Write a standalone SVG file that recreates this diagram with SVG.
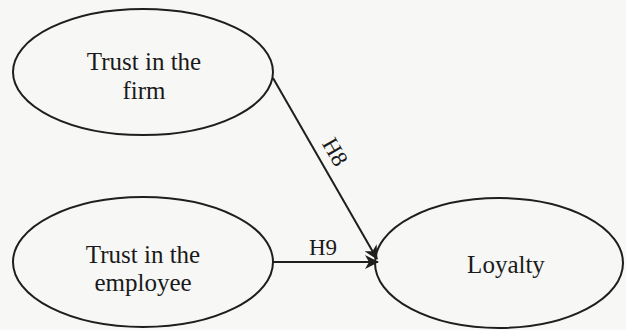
<svg xmlns="http://www.w3.org/2000/svg" width="626" height="330" viewBox="0 0 626 330">
  <style>
    .node { fill: none; stroke: #1e1e1e; stroke-width: 2; }
    .label { font-family: "Liberation Serif", "Times New Roman", serif; font-size: 25px; fill: #1a1a1a; text-anchor: middle; }
    .edge { fill: none; stroke: #1e1e1e; stroke-width: 2; }
    .hyp { font-family: "Liberation Serif", "Times New Roman", serif; font-size: 23px; fill: #1a1a1a; text-anchor: middle; }
  </style>
  <defs>
    <marker id="arrow" viewBox="0 0 14 14" refX="13" refY="7" markerWidth="14" markerHeight="14" markerUnits="userSpaceOnUse" orient="auto">
      <path d="M0,0 L14,7 L0,14 L4,7 Z" fill="#1e1e1e"/>
    </marker>
  </defs>
  <rect width="626" height="330" fill="#f7f7f5"/>

  <g id="trust-firm">
    <ellipse class="node" cx="143" cy="72" rx="130" ry="63"/>
    <text class="label" x="144" y="70">Trust in the</text>
    <text class="label" x="144" y="99">firm</text>
  </g>

  <g id="trust-employee">
    <ellipse class="node" cx="143" cy="262" rx="130" ry="65"/>
    <text class="label" x="143" y="263">Trust in the</text>
    <text class="label" x="143" y="291">employee</text>
  </g>

  <g id="loyalty">
    <ellipse class="node" cx="499" cy="263" rx="124" ry="65"/>
    <text class="label" x="506" y="273">Loyalty</text>
  </g>

  <g id="connectors">
    <line class="edge" x1="273" y1="78" x2="377" y2="259" marker-end="url(#arrow)"/>
    <text class="hyp" transform="translate(335,152) rotate(60)" dominant-baseline="central">H8</text>
    <line class="edge" x1="273" y1="262" x2="378" y2="262" marker-end="url(#arrow)"/>
    <text class="hyp" x="323" y="255">H9</text>
  </g>
</svg>
